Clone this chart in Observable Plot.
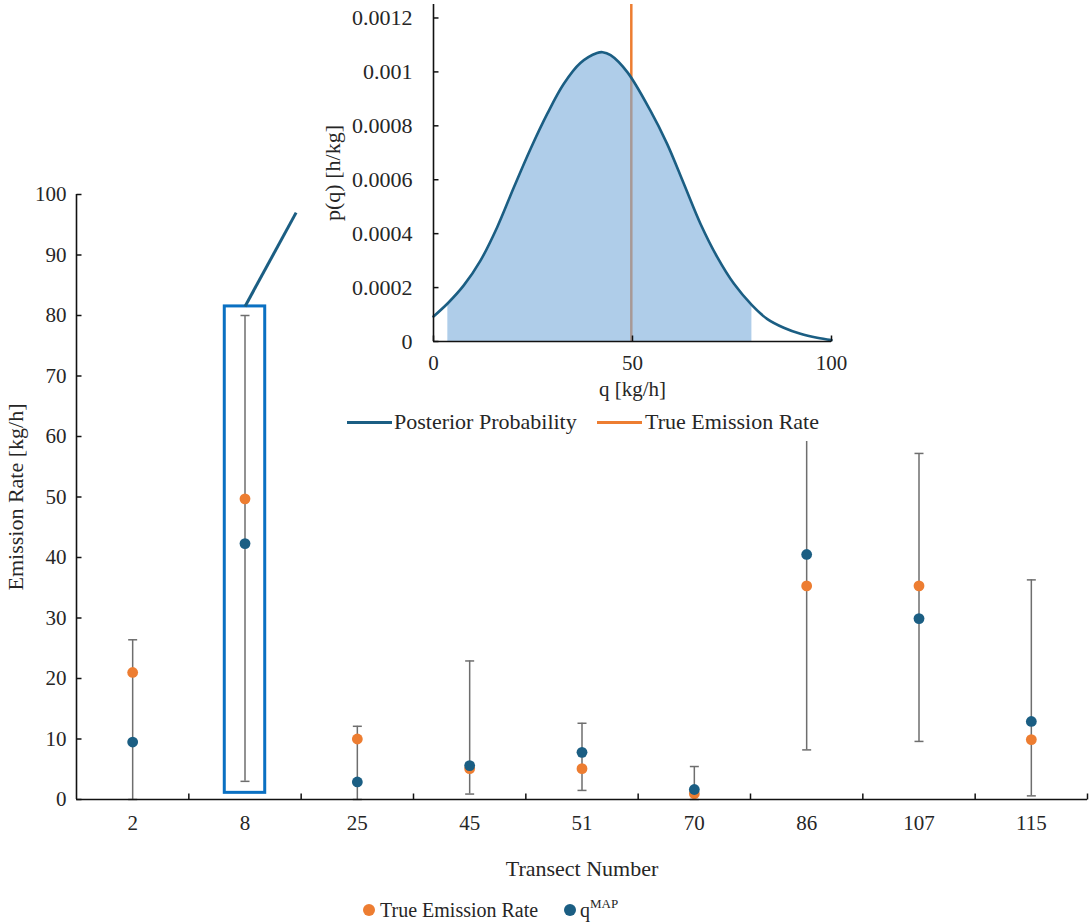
<!DOCTYPE html>
<html>
<head>
<meta charset="utf-8">
<script src="https://cdn.jsdelivr.net/npm/d3@7"></script>
<script src="https://cdn.jsdelivr.net/npm/@observablehq/plot@0.6"></script>
<style>
  body { margin: 0; background: #fff; }
  #wrap { position: relative; width: 1089px; height: 923px; font-family: "Liberation Serif", "Times New Roman", serif; color: #262626; }
  #main { position: absolute; left: 0; top: 0; }
  #inset { position: absolute; left: 310px; top: 0; width: 540px; height: 441px; background: #fff; }
  .leg { position: absolute; white-space: nowrap; line-height: 1; }
  .swatch-line { position: absolute; height: 3px; }
  .swatch-dot { position: absolute; width: 12px; height: 12px; border-radius: 50%; }
  svg { overflow: visible; }
</style>
</head>
<body>
<div id="wrap">
  <div id="main"></div>
  <div id="inset"></div>
  <div id="legend"></div>
</div>
<script>
// Transects and emission-rate estimates [kg/h]
const transects = ["2", "8", "25", "45", "51", "70", "86", "107", "115"];
const trueRate  = [21.0, 49.7, 10.0, 5.1, 5.1, 0.95, 35.3, 35.3, 9.9];
const qMap      = [9.5, 42.3, 2.9, 5.6, 7.8, 1.65, 40.5, 29.9, 12.9];
const ciLow     = [0, 3.0, 0, 0.9, 1.5, 0, 8.2, 9.6, 0.6];
const ciHigh    = [26.4, 80.0, 12.1, 22.9, 12.6, 5.45, 62.0, 57.2, 36.3];
const yTicks    = [0, 10, 20, 30, 40, 50, 60, 70, 80, 90, 100];

// Posterior density of q for transect 8
const postQ = [0, 3.6, 7.6, 11.8, 16.0, 20.2, 24.4, 28.6, 32.7, 36.9, 41.1, 42.5, 44.5, 48.7, 54.5, 58.7, 62.9, 67.1, 71.3, 75.5, 80.0, 83.8, 88.0, 92.2, 96.4, 100];
const postP = [0.93e-4, 1.42e-4, 2.08e-4, 3.0e-4, 4.24e-4, 5.72e-4, 7.15e-4, 8.45e-4, 9.55e-4, 10.33e-4, 10.70e-4, 10.73e-4, 10.62e-4, 9.99e-4, 8.56e-4, 7.33e-4, 5.85e-4, 4.36e-4, 3.13e-4, 2.14e-4, 1.35e-4, 0.84e-4, 0.51e-4, 0.285e-4, 0.137e-4, 0.05e-4];
const credible = [3.6, 80.0];          // shaded interval [kg/h]
const insetYTicks = [0, 0.0002, 0.0004, 0.0006, 0.0008, 0.001, 0.0012];
const insetXTicks = [0, 50, 100];
const highlighted = 1;                  // transect 8 is expanded in the inset

const ORANGE = "#ED7D31", TEAL = "#1B5E83", GREY = "#6E6E6E", BOX = "#0A70C2", SHADE = "#7AACDA", INK = "#262626";
const FONT = '"Liberation Serif", "Times New Roman", serif';

// Pixel-sized stroke symbols for error-bar caps and axis ticks
const capSymbol = { draw(ctx) { ctx.moveTo(-4.5, 0); ctx.lineTo(4.5, 0); } };
const rightTick = { draw(ctx) { ctx.moveTo(0, 0); ctx.lineTo(5, 0); } };
const upTick    = { draw(ctx) { ctx.moveTo(0, 0); ctx.lineTo(0, -6); } };

const rows = transects.map((t, i) => ({ i, t, truth: trueRate[i], map: qMap[i], lo: ciLow[i], hi: ciHigh[i] }));
const boxRow = rows[highlighted];
const boxTop = boxRow.hi + 1.5, boxBottom = boxRow.lo - 1.9;

const main = Plot.plot({
  width: 1089,
  height: 890,
  marginTop: 194,
  marginBottom: 91,
  marginLeft: 76,
  marginRight: 2,
  style: { fontFamily: FONT, fontSize: "21px", color: INK, background: "transparent" },
  x: { domain: [-0.5, transects.length - 0.5], axis: null, label: null },
  y: { domain: [0, 100], axis: null, label: null },
  marks: [
    // error bars
    Plot.ruleX(rows, { x: "i", y1: "lo", y2: "hi", stroke: GREY, strokeWidth: 1.5 }),
    Plot.dot(rows, { x: "i", y: "lo", symbol: capSymbol, fill: "none", stroke: GREY, strokeWidth: 1.5 }),
    Plot.dot(rows, { x: "i", y: "hi", symbol: capSymbol, fill: "none", stroke: GREY, strokeWidth: 1.5 }),
    // estimates
    Plot.dot(rows, { x: "i", y: "truth", r: 5.4, fill: ORANGE }),
    Plot.dot(rows, { x: "i", y: "map", r: 5.4, fill: TEAL }),
    // highlight box and connector to the inset
    Plot.rect([boxRow], { x1: d => d.i - 0.18, x2: d => d.i + 0.18, y1: boxBottom, y2: boxTop, fill: "none", stroke: BOX, strokeWidth: 3 }),
    Plot.link([boxRow], { x1: "i", y1: boxTop, x2: d => d.i + 0.455, y2: 97, stroke: TEAL, strokeWidth: 3 }),
    // axes
    Plot.ruleY([0], { stroke: "#111", strokeWidth: 1.6 }),
    Plot.ruleX([-0.5], { stroke: "#111", strokeWidth: 1.6 }),
    Plot.dot(yTicks, { x: -0.5, y: d => d, symbol: rightTick, fill: "none", stroke: "#111", strokeWidth: 1.5 }),
    Plot.dot(d3.range(transects.length), { x: d => d + 0.5, y: 0, symbol: upTick, fill: "none", stroke: "#111", strokeWidth: 1.5 }),
    Plot.axisY({ ticks: yTicks, tickSize: 0, tickPadding: 10, fontSize: 21, label: null }),
    Plot.axisX({ ticks: d3.range(transects.length), tickFormat: i => transects[i], tickSize: 0, tickPadding: 16, fontSize: 21, label: null }),
    Plot.text(["Transect Number"], { frameAnchor: "bottom", lineAnchor: "middle", textAnchor: "middle", dy: 69, fontSize: 22, fill: INK }),
    Plot.text(["Emission Rate [kg/h]"], { frameAnchor: "left", lineAnchor: "middle", textAnchor: "middle", dx: -61, rotate: -90, fontSize: 22, fill: INK })
  ]
});
document.getElementById("main").append(main);

// Inset: posterior probability for transect 8
const post = postQ.map((q, k) => ({ q, p: postP[k] }));
const shaded = post.filter(d => d.q >= credible[0] && d.q <= credible[1]);

const inset = Plot.plot({
  width: 540,
  height: 400,
  marginTop: 4,
  marginBottom: 59,
  marginLeft: 123,
  marginRight: 19,
  style: { fontFamily: FONT, fontSize: "21px", color: INK, background: "transparent" },
  x: { domain: [0, 100], axis: null, label: null },
  y: { domain: [0, 0.00125], axis: null, label: null },
  marks: [
    Plot.ruleX([trueRate[highlighted]], { stroke: ORANGE, strokeWidth: 2.5 }),
    Plot.areaY(shaded, { x: "q", y: "p", fill: SHADE, fillOpacity: 0.6, curve: "catmull-rom" }),
    Plot.lineY(post, { x: "q", y: "p", stroke: TEAL, strokeWidth: 2.6, curve: "catmull-rom" }),
    Plot.ruleY([0], { stroke: "#111", strokeWidth: 1.6 }),
    Plot.ruleX([0], { stroke: "#111", strokeWidth: 1.6 }),
    Plot.dot(insetYTicks, { x: 0, y: d => d, symbol: rightTick, fill: "none", stroke: "#111", strokeWidth: 1.5 }),
    Plot.dot(insetXTicks, { x: d => d, y: 0, symbol: upTick, fill: "none", stroke: "#111", strokeWidth: 1.5 }),
    Plot.axisY({ ticks: insetYTicks, tickFormat: d => String(+d.toFixed(4)), tickSize: 0, tickPadding: 21, fontSize: 22, label: null }),
    Plot.axisX({ ticks: insetXTicks, tickSize: 0, tickPadding: 14, fontSize: 21, label: null }),
    Plot.text(["q [kg/h]"], { frameAnchor: "bottom", lineAnchor: "middle", textAnchor: "middle", dy: 48, fontSize: 21, fill: INK }),
    Plot.text(["p(q) [h/kg]"], { frameAnchor: "left", lineAnchor: "middle", textAnchor: "middle", dx: -101, rotate: -90, fontSize: 22, fill: INK })
  ]
});
const insetBox = document.getElementById("inset");
insetBox.append(inset);
insetBox.insertAdjacentHTML("beforeend", `
  <div class="swatch-line" style="left:37px;top:421px;width:45px;background:${TEAL}"></div>
  <div class="leg" style="left:84px;top:411px;font-size:22px">Posterior Probability</div>
  <div class="swatch-line" style="left:287px;top:421px;width:45px;background:${ORANGE}"></div>
  <div class="leg" style="left:335px;top:411px;font-size:22px">True Emission Rate</div>
`);

// Legend for the main chart
document.getElementById("legend").innerHTML = `
  <div class="swatch-dot" style="left:363px;top:904px;background:${ORANGE}"></div>
  <div class="leg" style="left:380px;top:900px;font-size:20px">True Emission Rate</div>
  <div class="swatch-dot" style="left:564px;top:904px;background:${TEAL}"></div>
  <div class="leg" style="left:580px;top:900px;font-size:20px">q<sup style="font-size:13px;vertical-align:9px;line-height:0">MAP</sup></div>
`;
</script>
</body>
</html>
